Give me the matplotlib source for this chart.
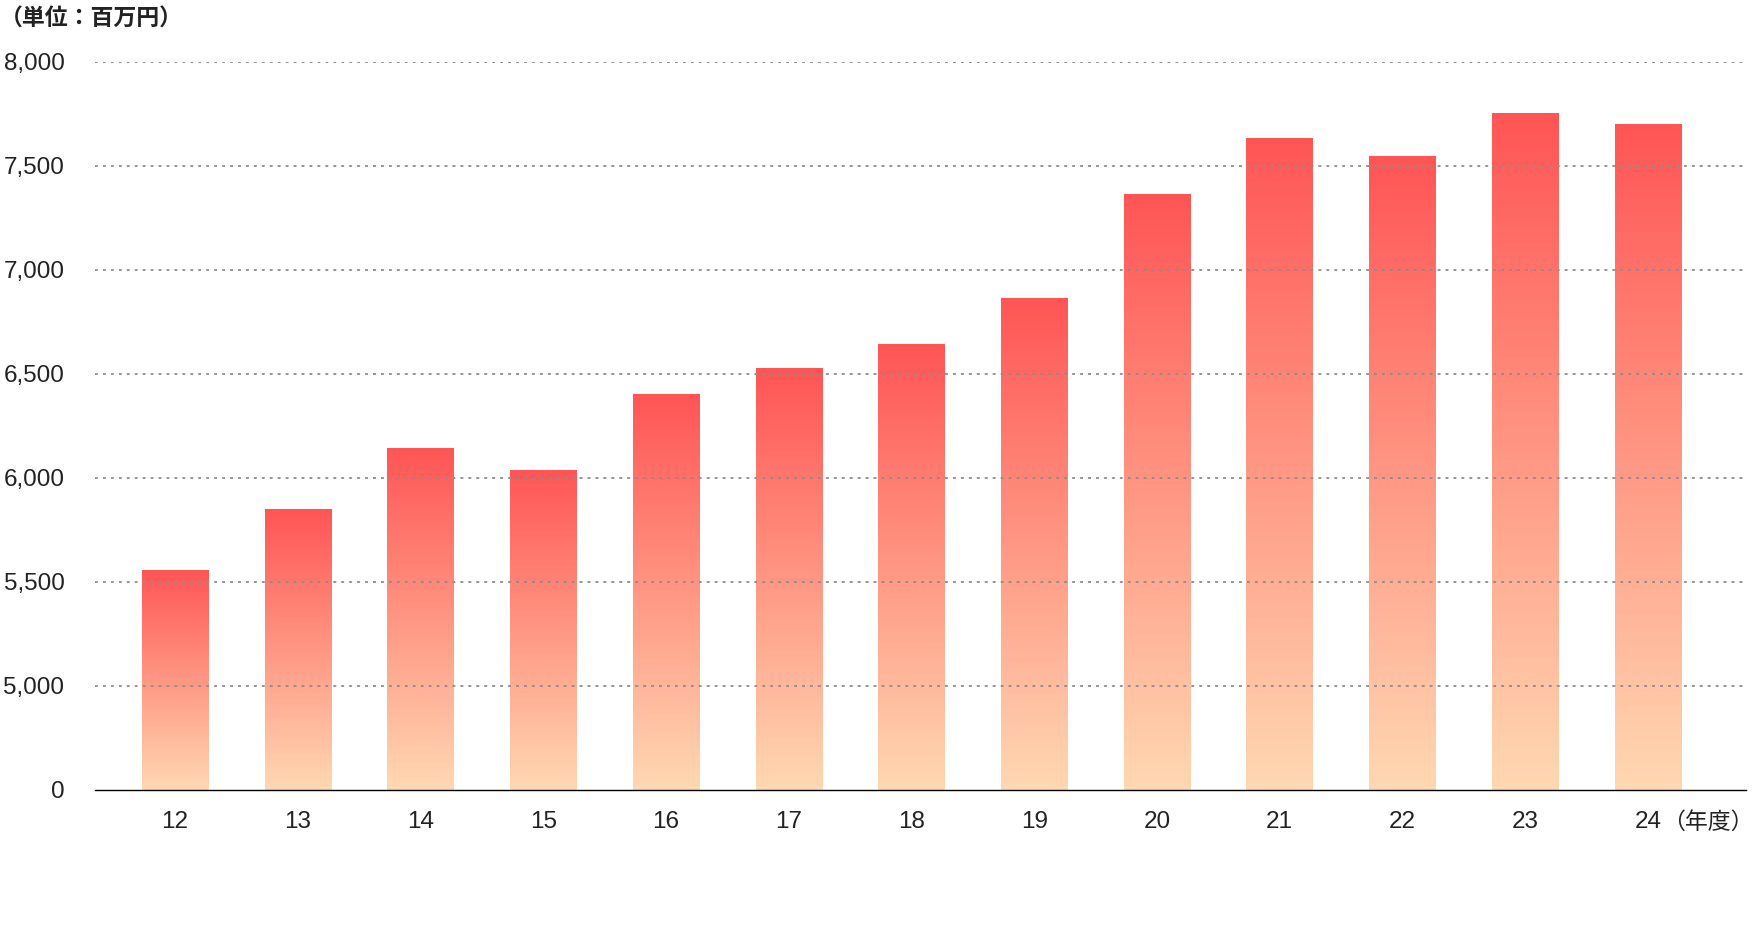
import numpy as np
import matplotlib
matplotlib.use("Agg")
import matplotlib.pyplot as plt
from matplotlib.colors import LinearSegmentedColormap

plt.rcParams['font.family'] = ['Noto Sans CJK JP', 'DejaVu Sans']

# ---- data ----
years = ["12", "13", "14", "15", "16", "17", "18", "19", "20", "21", "22", "23", "24"]
sales = [5558, 5849, 6145, 6038, 6402, 6527, 6643, 6866, 7365, 7635, 7548, 7751, 7698]
y_floor = 4500          # axis is broken: the floor is labelled "0"
y_ticks = [4500, 5000, 5500, 6000, 6500, 7000, 7500, 8000]
y_tick_labels = ["0", "5,000", "5,500", "6,000", "6,500", "7,000", "7,500", "8,000"]
unit_label = "（単位：百万円）"
x_suffix = "（年度）"

# ---- style ----
top_color = "#ff5555"
bottom_color = "#ffd8b2"
text_color = "#222222"
grid_color = "#8c8c8c"
bar_width = 0.54
num_family = ['Liberation Sans', 'Noto Sans CJK JP']

fig = plt.figure(figsize=(17.57, 9.32), dpi=100)
ax = fig.add_axes([0.0541, 0.1524, 0.9396, 0.7815])

x = np.arange(len(years))
bars = ax.bar(x, np.array(sales) - y_floor, bottom=y_floor, width=bar_width,
              color="none", edgecolor="none", zorder=1)

cmap = LinearSegmentedColormap.from_list("grad", [bottom_color, top_color])
grad = np.linspace(1, 0, 256).reshape(-1, 1)
for b in bars:
    x0 = b.get_x()
    x1 = x0 + b.get_width()
    y0 = b.get_y()
    y1 = y0 + b.get_height()
    im = ax.imshow(grad, cmap=cmap, aspect="auto", extent=[x0, x1, y0, y1],
                   zorder=1, interpolation="bicubic", vmin=0, vmax=1)
    im.set_clip_path(b)

ax.set_xlim(-0.652, len(years) - 1 + 0.80)
ax.set_ylim(y_floor, 8000)

# dotted gridlines on top of bars
for yt in y_ticks[1:]:
    ax.axhline(yt, color=grid_color, lw=1.3, linestyle=(0, (1.6, 2.8)), zorder=3)

ax.set_yticks(y_ticks)
ax.set_yticklabels(y_tick_labels, family=num_family, fontsize=17.5, color=text_color)
ax.set_xticks(x)
ax.set_xticklabels(years, family=num_family, fontsize=17.5, color=text_color)
ax.tick_params(axis="y", length=0, pad=22)
ax.tick_params(axis="x", length=0, pad=15.5)

for s in ["top", "right", "left"]:
    ax.spines[s].set_visible(False)
ax.spines["bottom"].set_color("#000000")
ax.spines["bottom"].set_linewidth(1.0)
ax.spines["bottom"].set_zorder(4)

ax.annotate(x_suffix, xy=(x[-1], 0), xycoords=("data", "axes fraction"),
            xytext=(10, -15), textcoords="offset points", ha="left", va="top",
            fontsize=16.5, color=text_color)

fig.text(0.0, 1 - 19 / 932, unit_label, ha="left", va="center", fontsize=16.5,
         color=text_color, fontweight="bold")

fig.savefig("out.png", dpi=100)
